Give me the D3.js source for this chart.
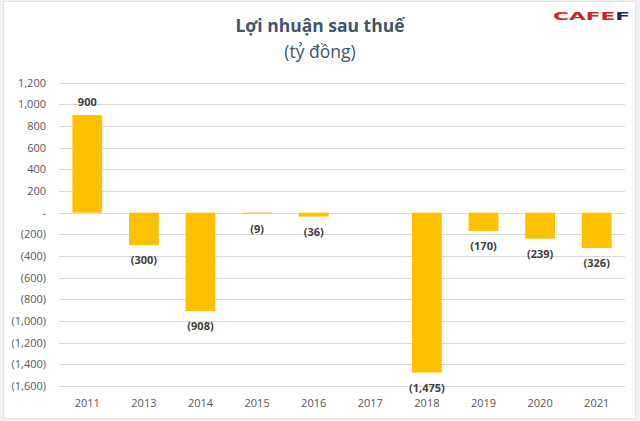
<!DOCTYPE html>
<html><head><meta charset="utf-8">
<script src="https://cdn.jsdelivr.net/npm/d3@7"></script>
<style>body{margin:0;background:#fff}svg{display:block}</style>
</head><body>
<svg id="c" width="640" height="421"></svg>
<script>
const years = ["2011","2013","2014","2015","2016","2017","2018","2019","2020","2021"];
const profits = [900,-300,-908,-9,-36,0,-1475,-170,-239,-326];
const yTicks = [1200,1000,800,600,400,200,0,-200,-400,-600,-800,-1000,-1200,-1400,-1600];
const titleText = "Lợi nhuận sau thuế";
const subtitleText = "(tỷ đồng)";

const svg = d3.select("#c");
const font = "'Open Sans', sans-serif";
svg.append("rect").attr("x",0).attr("y",0).attr("width",640).attr("height",421).attr("fill","#f2f2f4");
svg.append("rect").attr("x",3.5).attr("y",1.5).attr("width",632).attr("height",417)
  .attr("fill","#fff").attr("stroke","#e3e3e6");

const x = d3.scaleBand().domain(years).range([59,625]).paddingInner(0.474).paddingOuter(0.237);
const y = d3.scaleLinear().domain([-1600,1200]).range([386.1,82.6]);

const fmt = v => v === 0 ? "-" : (v < 0 ? "(" + d3.format(",")(-v) + ")" : d3.format(",")(v));

// gridlines
svg.append("g").selectAll("line").data(yTicks).join("line")
  .attr("x1",59).attr("x2",625)
  .attr("y1",d=>Math.round(y(d))+0.5).attr("y2",d=>Math.round(y(d))+0.5)
  .attr("stroke","#d9d9d9").attr("stroke-width",1);

// y axis labels
const yAxis = d3.axisLeft(y).tickValues(yTicks).tickFormat(fmt).tickSize(0).tickPadding(0);
const ga = svg.append("g").attr("transform","translate(46,0)").call(yAxis);
ga.select(".domain").remove();
ga.selectAll("text").attr("font-family",font).attr("font-size",11).attr("fill","#595959");

// x axis labels
const xAxis = d3.axisBottom(x).tickSize(0).tickPadding(0);
const gx = svg.append("g").attr("transform","translate(0,399)").call(xAxis);
gx.select(".domain").remove();
gx.selectAll("text").attr("font-family",font).attr("font-size",11).attr("fill","#595959");

// bars
const data = years.map((k,i)=>({k, v: profits[i]}));
svg.append("g").selectAll("rect").data(data.filter(d=>d.v!==0)).join("rect")
  .attr("x",d=>x(d.k)).attr("width",x.bandwidth())
  .attr("y",d=>y(Math.max(0,d.v))).attr("height",d=>Math.abs(y(d.v)-y(0)))
  .attr("fill","#FFC000");

// data labels
svg.append("g").selectAll("text").data(data.filter(d=>d.v!==0)).join("text")
  .attr("x",d=>x(d.k)+x.bandwidth()/2)
  .attr("y",d=> d.v>0 ? y(d.v)-9 : y(d.v)+19)
  .attr("text-anchor","middle")
  .attr("font-family",font).attr("font-size",11).attr("font-weight","bold")
  .attr("fill","#404040").text(d=>fmt(d.v));

// titles
svg.append("text").attr("x",320).attr("y",32).attr("text-anchor","middle")
  .attr("font-family",font).attr("font-size",17.5).attr("font-weight","bold")
  .attr("fill","#44546a").text(titleText);
svg.append("text").attr("x",320).attr("y",58).attr("text-anchor","middle")
  .attr("font-family",font).attr("font-size",17.5).attr("fill","#44546a").text(subtitleText);

// logo
const logo = svg.append("text").attr("x",553).attr("y",20)
  .attr("font-family","'DejaVu Sans', sans-serif").attr("font-size",11).attr("font-weight","bold")
  .attr("textLength",77).attr("lengthAdjust","spacingAndGlyphs");
logo.append("tspan").attr("fill","#d0202e").text("CAFE");
logo.append("tspan").attr("fill","#1f2f5c").text("F");
</script>
</body></html>
